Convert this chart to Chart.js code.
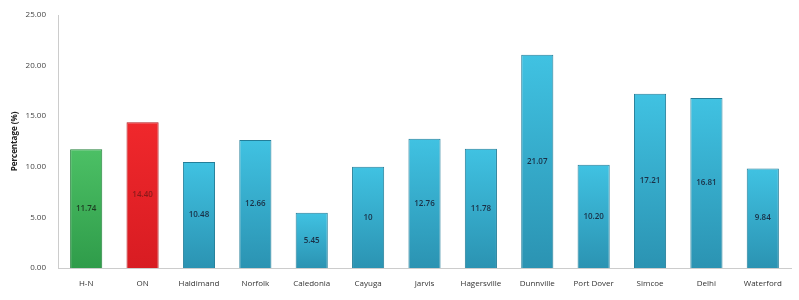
<!DOCTYPE html>
<html>
<head>
<meta charset="utf-8">
<script src="https://cdn.jsdelivr.net/npm/chart.js@4"></script>
<style>
  html, body { margin: 0; padding: 0; background: #fff; }
  #wrap { width: 799px; height: 300px; }
</style>
</head>
<body>
<div id="wrap"><canvas id="pctChart" width="799" height="300"></canvas></div>
<script>
const categories = ['H-N', 'ON', 'Haldimand', 'Norfolk', 'Caledonia', 'Cayuga', 'Jarvis',
  'Hagersville', 'Dunnville', 'Port Dover', 'Simcoe', 'Delhi', 'Waterford'];
const percentages = [11.74, 14.40, 10.48, 12.66, 5.45, 10, 12.76, 11.78, 21.07, 10.20, 17.21, 16.81, 9.84];
const valueLabels = ['11.74', '14.40', '10.48', '12.66', '5.45', '10', '12.76', '11.78', '21.07', '10.20', '17.21', '16.81', '9.84'];
const yTicks = [0, 5, 10, 15, 20, 25];

// colour set per bar: [top, bottom, edge, label]
function barPalette(i) {
  if (i === 0) return ['#4cc065', '#2f9c4a', '#23803a', '#1d3b22'];
  if (i === 1) return ['#f0282c', '#d81c22', '#b3151a', '#8a1a1a'];
  return ['#40c2e2', '#2b93b2', '#237e99', '#1a2f45'];
}

// labels drawn in the middle of each bar
const midLabels = {
  id: 'midLabels',
  afterDatasetsDraw(chart) {
    const ctx = chart.ctx;
    const meta = chart.getDatasetMeta(0);
    ctx.save();
    ctx.font = '600 8px "Open Sans", sans-serif';
    ctx.textAlign = 'center';
    ctx.textBaseline = 'middle';
    meta.data.forEach((bar, i) => {
      const mid = (bar.y + bar.base) / 2;
      ctx.fillStyle = barPalette(i)[3];
      ctx.fillText(valueLabels[i], bar.x, mid);
    });
    ctx.restore();
  }
};

const ctx = document.getElementById('pctChart').getContext('2d');

new Chart(ctx, {
  type: 'bar',
  data: {
    labels: categories,
    datasets: [{
      data: percentages,
      backgroundColor: (c) => {
        const area = c.chart.chartArea;
        const p = barPalette(c.dataIndex);
        const y = c.chart.scales.y;
        if (!area || !y) return p[0];
        // gradient runs over each bar's own height
        const top = y.getPixelForValue(c.raw);
        const g = c.chart.ctx.createLinearGradient(0, top, 0, area.bottom);
        g.addColorStop(0, p[0]);
        g.addColorStop(1, p[1]);
        return g;
      },
      borderColor: (c) => barPalette(c.dataIndex)[2],
      borderWidth: 1,
      barPercentage: 0.57,
      categoryPercentage: 1
    }]
  },
  options: {
    responsive: false,
    animation: false,
    layout: { padding: { top: 15, right: 8, left: 10, bottom: 0 } },
    plugins: {
      legend: { display: false },
      tooltip: { enabled: false }
    },
    scales: {
      y: {
        min: 0,
        max: 25,
        afterBuildTicks: (axis) => { axis.ticks = yTicks.map(v => ({ value: v })); },
        afterFit: (axis) => { axis.width = 48; },
        grid: { display: false },
        border: { color: '#cccccc', width: 1 },
        ticks: {
          color: '#444',
          font: { size: 8, family: '"Open Sans", sans-serif' },
          padding: 4,
          callback: (v) => Number(v).toFixed(2)
        },
        title: {
          display: true,
          text: 'Percentage (%)',
          color: '#222',
          font: { size: 8, weight: 'bold', family: '"Open Sans", sans-serif' },
          padding: { top: 0, bottom: 4 }
        }
      },
      x: {
        afterFit: (axis) => { axis.height = 32; },
        grid: { display: false },
        border: { color: '#cccccc', width: 1 },
        ticks: {
          color: '#333',
          font: { size: 8, family: '"Open Sans", sans-serif' },
          padding: 3,
          maxRotation: 0
        }
      }
    }
  },
  plugins: [midLabels]
});
</script>
</body>
</html>
